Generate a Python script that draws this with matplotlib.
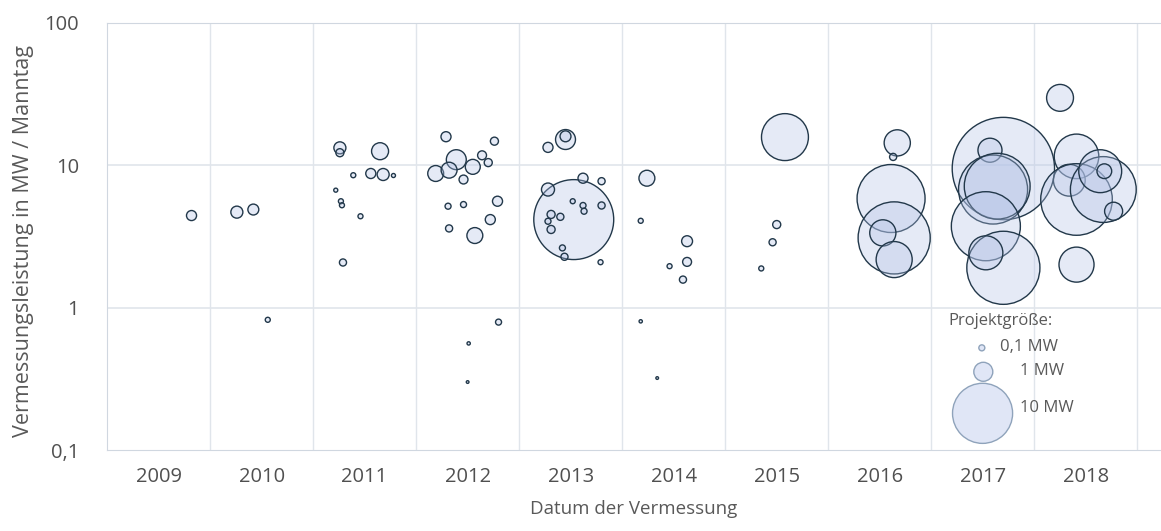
import numpy as np
import matplotlib.pyplot as plt

# Jahr (Dezimaljahr der Vermessung), Leistung in MW/Manntag, Projektgröße in MW
jahr = [2009.82,
        2010.26, 2010.42, 2010.56,
        2011.26, 2011.26, 2011.39, 2011.56, 2011.65, 2011.68, 2011.78, 2011.22,
        2011.27, 2011.28, 2011.46, 2011.29,
        2012.29, 2012.76, 2012.39, 2012.64, 2012.70, 2012.19, 2012.32, 2012.55,
        2012.46, 2012.31, 2012.46, 2012.79, 2012.72, 2012.32, 2012.57, 2012.80,
        2012.51, 2012.50,
        2013.53, 2013.28, 2013.62, 2013.80, 2013.52, 2013.62, 2013.63, 2013.80,
        2013.31, 2013.40, 2013.28, 2013.31, 2013.42, 2013.44, 2013.79, 2013.45,
        2013.45, 2013.28,
        2014.24, 2014.18, 2014.63, 2014.63, 2014.46, 2014.59, 2014.18, 2014.34,
        2015.58, 2015.50, 2015.46, 2015.35,
        2016.67, 2016.63, 2016.61, 2016.64, 2016.53, 2016.64,
        2017.70, 2017.57, 2017.60, 2017.64, 2017.53, 2017.70, 2017.53,
        2018.25, 2018.41, 2018.34, 2018.41, 2018.67, 2018.64, 2018.68, 2018.77,
        2018.41]
leistung = [4.42,
            4.67, 4.87, 0.82,
            13.2, 12.2, 8.48, 8.72, 12.5, 8.58, 8.44, 6.66,
            5.57, 5.22, 4.37, 2.07,
            15.8, 14.7, 10.9, 11.7, 10.4, 8.72, 9.2, 9.71,
            7.91, 5.14, 5.28, 5.57, 4.14, 3.59, 3.2, 0.79,
            0.56, 0.30,
            4.14, 6.73, 8.08, 7.7, 5.57, 5.2, 4.74, 5.2,
            4.5, 4.33, 4.03, 3.53, 2.62, 2.27, 2.08, 15.1,
            15.9, 13.3,
            8.08, 4.06, 2.92, 2.09, 1.95, 1.57, 0.80, 0.32,
            15.7, 3.82, 2.87, 1.88,
            14.3, 11.4, 5.82, 3.08, 3.34, 2.17,
            9.45, 12.7, 6.73, 7.1, 3.72, 1.9, 2.42,
            29.6, 11.5, 7.82, 5.73, 6.73, 9.05, 9.05, 4.74,
            2.0]
groesse = [0.28,
           0.4, 0.33, 0.07,
           0.4, 0.18, 0.07, 0.28, 0.8, 0.4, 0.045, 0.045,
           0.07, 0.07, 0.07, 0.14,
           0.28, 0.18, 1.1, 0.22, 0.18, 0.7, 0.7, 0.62,
           0.22, 0.1, 0.1, 0.28, 0.28, 0.14, 0.7, 0.1,
           0.03, 0.02,
           17.7, 0.47, 0.28, 0.14, 0.07, 0.1, 0.1, 0.14,
           0.18, 0.14, 0.1, 0.18, 0.1, 0.14, 0.07, 1.1,
           0.33, 0.28,
           0.7, 0.07, 0.33, 0.22, 0.07, 0.14, 0.03, 0.02,
           6.1, 0.18, 0.14, 0.07,
           1.9, 0.14, 12.8, 14.4, 1.9, 3.6,
           29, 1.6, 13.2, 12, 13.2, 14.8, 3.2,
           2.0, 5.5, 2.8, 14.2, 12, 5.1, 0.6, 0.9,
           3.4]

jahre = list(range(2009, 2019))
legende_mw = [0.1, 1, 10]
legende_text = ["0,1 MW", "1 MW", "10 MW"]

plt.rcParams['font.family'] = ['Open Sans', 'DejaVu Sans']
grau = '#595959'


def flaeche(mw):
    # Fläche proportional zur Projektgröße (Durchmesser in px -> pt^2)
    d_px = 19 * np.sqrt(np.asarray(mw, dtype=float))
    return (d_px * 0.72) ** 2


fig = plt.figure(figsize=(11.61, 5.31), dpi=100)
ax = fig.add_axes([0.0922, 0.1525, 0.9078, 0.8051])

ax.scatter(jahr, leistung, s=flaeche(groesse), facecolor=(0.70, 0.76, 0.90, 0.33),
           edgecolor='#22384a', linewidth=1.0, zorder=3)

ax.set_yscale('log')
ax.set_ylim(0.1, 100)
ax.set_xlim(2009, 2019.23)
ax.set_yticks([0.1, 1, 10, 100])
ax.set_yticklabels(["0,1", "1", "10", "100"])
ax.minorticks_off()
ax.set_xticks([j + 0.5 for j in jahre])
ax.set_xticklabels([str(j) for j in jahre])
ax.tick_params(axis='both', length=0, colors='#505050', labelsize=14.5)
ax.tick_params(axis='x', pad=12)
ax.tick_params(axis='y', pad=20)

for j in jahre[1:] + [2019]:
    ax.axvline(j, color='#e0e5eb', linewidth=1, zorder=0)
for v in [1, 10]:
    ax.axhline(v, color='#e0e5eb', linewidth=1.2, zorder=0)

for side in ['top', 'bottom', 'left']:
    ax.spines[side].set_color('#d0d7e0')
ax.spines['right'].set_visible(False)

ax.set_xlabel("Datum der Vermessung", color=grau, fontsize=13.5)
ax.set_ylabel("Vermessungsleistung in MW / Manntag", color=grau, fontsize=15.5)
ax.xaxis.set_label_coords(0.5, -0.118)
ax.yaxis.set_label_coords(-0.069, 0.49)

# Legende für Blasengrößen
ax.text(0.798, 0.302, "Projektgröße:", transform=ax.transAxes, color=grau,
        fontsize=12, va='center', ha='left')
leg_x = [0.830, 0.8314, 0.8307]
leg_y = [0.239, 0.183, 0.0858]
txt_x = [0.847, 0.866, 0.866]
txt_y = [0.241, 0.184, 0.098]
ax.scatter(leg_x, leg_y, s=flaeche(legende_mw), transform=ax.transAxes,
           facecolor=(0.80, 0.84, 0.94, 0.6), edgecolor='#8fa3bb', linewidth=1, zorder=4)
for tx, ty, t in zip(txt_x, txt_y, legende_text):
    ax.text(tx, ty, t, transform=ax.transAxes, color=grau, fontsize=12,
            va='center', ha='left')

plt.savefig("out.png", dpi=100)
